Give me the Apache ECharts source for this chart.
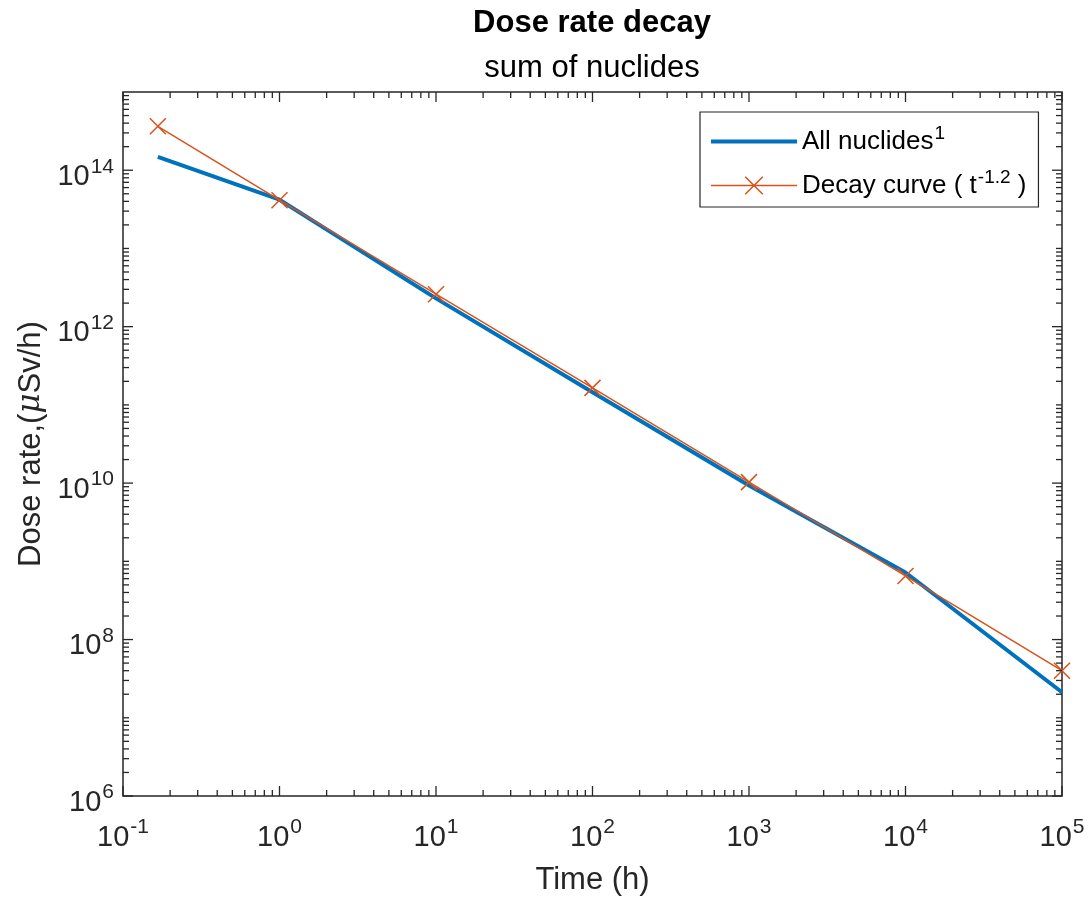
<!DOCTYPE html>
<html>
<head>
<meta charset="utf-8">
<script src="https://cdn.jsdelivr.net/npm/echarts@6/dist/echarts.min.js"></script>
<style>
html,body{margin:0;padding:0;background:#fff;}
#chart{width:1089px;height:901px;}
</style>
</head>
<body>
<div id="chart"></div>
<script>
// ---- data ----
const timeHours = [0.167, 1, 10, 100, 1000, 10000, 100000];
const allNuclides = [1.48e14, 4.2e13, 2.3e12, 1.45e11, 9.3e9, 7.2e8, 2.12e7];
const decayCurve  = [3.64e14, 4.14e13, 2.6e12, 1.65e11, 1.03e10, 6.5e8, 4.0e7];

const xMajorTicks = [1e-1, 1e0, 1e1, 1e2, 1e3, 1e4, 1e5];
const yMajorTicks = [1e6, 1e8, 1e10, 1e12, 1e14];
const xDecades = [-1, 0, 1, 2, 3, 4];
const yDecades = [6, 7, 8, 9, 10, 11, 12, 13, 14];
const minorMultipliers = [2, 3, 4, 5, 6, 7, 8, 9];

const FONT = '"Liberation Sans", Arial, Helvetica, sans-serif';
const AX = '#262626';
const BLUE = '#0072BD';
const RED = '#D95319';

// tick marks (drawn through the axes' own scales)
const tickData = [];
xMajorTicks.forEach(v => tickData.push([v, 1e10, 0, 10]));
xDecades.forEach(k => minorMultipliers.forEach(m => tickData.push([m * Math.pow(10, k), 1e10, 0, 6])));
yMajorTicks.forEach(v => tickData.push([1, v, 1, 10]));
yDecades.forEach(k => {
  if (k % 2 === 1) tickData.push([1, Math.pow(10, k), 1, 6]);
  minorMultipliers.forEach(m => tickData.push([1, m * Math.pow(10, k), 1, 6]));
});

const supRich = {
  b: {fontSize: 29, fontFamily: FONT, color: AX, lineHeight: 30, verticalAlign: 'bottom'},
  s: {fontSize: 21, fontFamily: FONT, color: AX, lineHeight: 21, verticalAlign: 'bottom', padding: [0, 0, 14, 1]}
};
function expLabel(v) {
  const e = Math.round(Math.log10(v));
  return '{b|10}{s|' + e + '}';
}

const chart = echarts.init(document.getElementById('chart'), null, {renderer: 'canvas'});
chart.setOption({
  animation: false,
  backgroundColor: '#fff',
  graphic: [
    {type: 'text', x: 592, y: 23, style: {text: 'Dose rate decay', fontSize: 31, fontWeight: 'bold', fontFamily: FONT, fill: '#000', align: 'center', verticalAlign: 'middle'}},
    {type: 'text', x: 592, y: 68, style: {text: 'sum of nuclides', fontSize: 31, fontFamily: FONT, fill: '#000', align: 'center', verticalAlign: 'middle'}}
  ],
  grid: {left: 123, top: 92, width: 939, height: 706, show: true, borderColor: AX, borderWidth: 1.5, backgroundColor: '#fff', containLabel: false},
  legend: {
    orient: 'vertical',
    left: 700, top: 112,
    data: [
      {name: 'All nuclides', itemStyle: {opacity: 0}, lineStyle: {color: BLUE, width: 4}},
      {name: 'Decay curve', itemStyle: {color: 'none', borderColor: RED, borderWidth: 1.5}, lineStyle: {color: RED, width: 1.5}}
    ],
    itemWidth: 86, itemHeight: 22, itemGap: 13,
    padding: [12, 12, 8, 9],
    borderColor: AX, borderWidth: 1.2, backgroundColor: '#fff',
    formatter: function (name) {
      if (name === 'All nuclides') return '{n|All nuclides}{s|1}';
      return '{n|Decay curve ( t}{s|-1.2}{n| )}';
    },
    textStyle: {
      color: '#000', fontFamily: FONT, fontSize: 26,
      rich: {
        n: {fontSize: 26, fontFamily: FONT, color: '#000', lineHeight: 27, verticalAlign: 'bottom'},
        s: {fontSize: 19, fontFamily: FONT, color: '#000', lineHeight: 19, verticalAlign: 'bottom', padding: [0, 0, 12, 1]}
      }
    }
  },
  xAxis: {
    type: 'log', logBase: 10, min: 0.1, max: 1e5, interval: 1,
    name: 'Time (h)', nameLocation: 'middle', nameGap: 69,
    nameTextStyle: {fontSize: 31, fontFamily: FONT, color: AX},
    axisLine: {show: false}, axisTick: {show: false}, splitLine: {show: false},
    axisLabel: {margin: 26, formatter: expLabel, rich: supRich}
  },
  yAxis: {
    type: 'log', logBase: 10, min: 1e6, max: 1e15, interval: 2,
    name: '{t|Dose rate,(}{m|μ}{t|Sv/h)}', nameLocation: 'middle', nameGap: 76,
    nameTextStyle: {fontSize: 31, fontFamily: FONT, color: AX,
      rich: {t: {fontSize: 31, fontFamily: FONT, color: AX}, m: {fontSize: 31, fontFamily: '"DejaVu Serif", serif', fontStyle: 'italic', color: AX}}},
    axisLine: {show: false}, axisTick: {show: false}, splitLine: {show: false},
    axisLabel: {margin: 9, padding: [12, 0, 0, 0], formatter: function (v) {
      const e = Math.round(Math.log10(v));
      return e % 2 === 0 ? expLabel(v) : '';
    }, rich: supRich}
  },
  series: [
    {
      name: 'All nuclides', type: 'line',
      data: timeHours.map((t, i) => [t, allNuclides[i]]),
      symbol: 'none', color: BLUE,
      lineStyle: {color: BLUE, width: 4}, z: 3
    },
    {
      name: 'Decay curve', type: 'line',
      data: timeHours.map((t, i) => [t, decayCurve[i]]),
      symbol: 'path://M0,0L10,10M10,0L0,10', symbolSize: 16, color: RED,
      itemStyle: {color: 'none', borderColor: RED, borderWidth: 1.5},
      lineStyle: {color: RED, width: 1.5}, z: 4
    },
    {
      name: 'ticks', type: 'custom', silent: true, clip: false, z: 5,
      data: tickData,
      encode: {x: 0, y: 1},
      renderItem: function (params, api) {
        const cs = params.coordSys;
        const kind = api.value(2), len = api.value(3);
        const st = {stroke: AX, lineWidth: 1.3};
        if (kind === 0) {
          const px = api.coord([api.value(0), 1e10])[0];
          return {type: 'group', children: [
            {type: 'line', shape: {x1: px, y1: cs.y + cs.height, x2: px, y2: cs.y + cs.height - len}, style: st},
            {type: 'line', shape: {x1: px, y1: cs.y, x2: px, y2: cs.y + len}, style: st}
          ]};
        }
        const py = api.coord([1, api.value(1)])[1];
        return {type: 'group', children: [
          {type: 'line', shape: {x1: cs.x, y1: py, x2: cs.x + len, y2: py}, style: st},
          {type: 'line', shape: {x1: cs.x + cs.width, y1: py, x2: cs.x + cs.width - len, y2: py}, style: st}
        ]};
      }
    }
  ]
});
</script>
</body>
</html>
